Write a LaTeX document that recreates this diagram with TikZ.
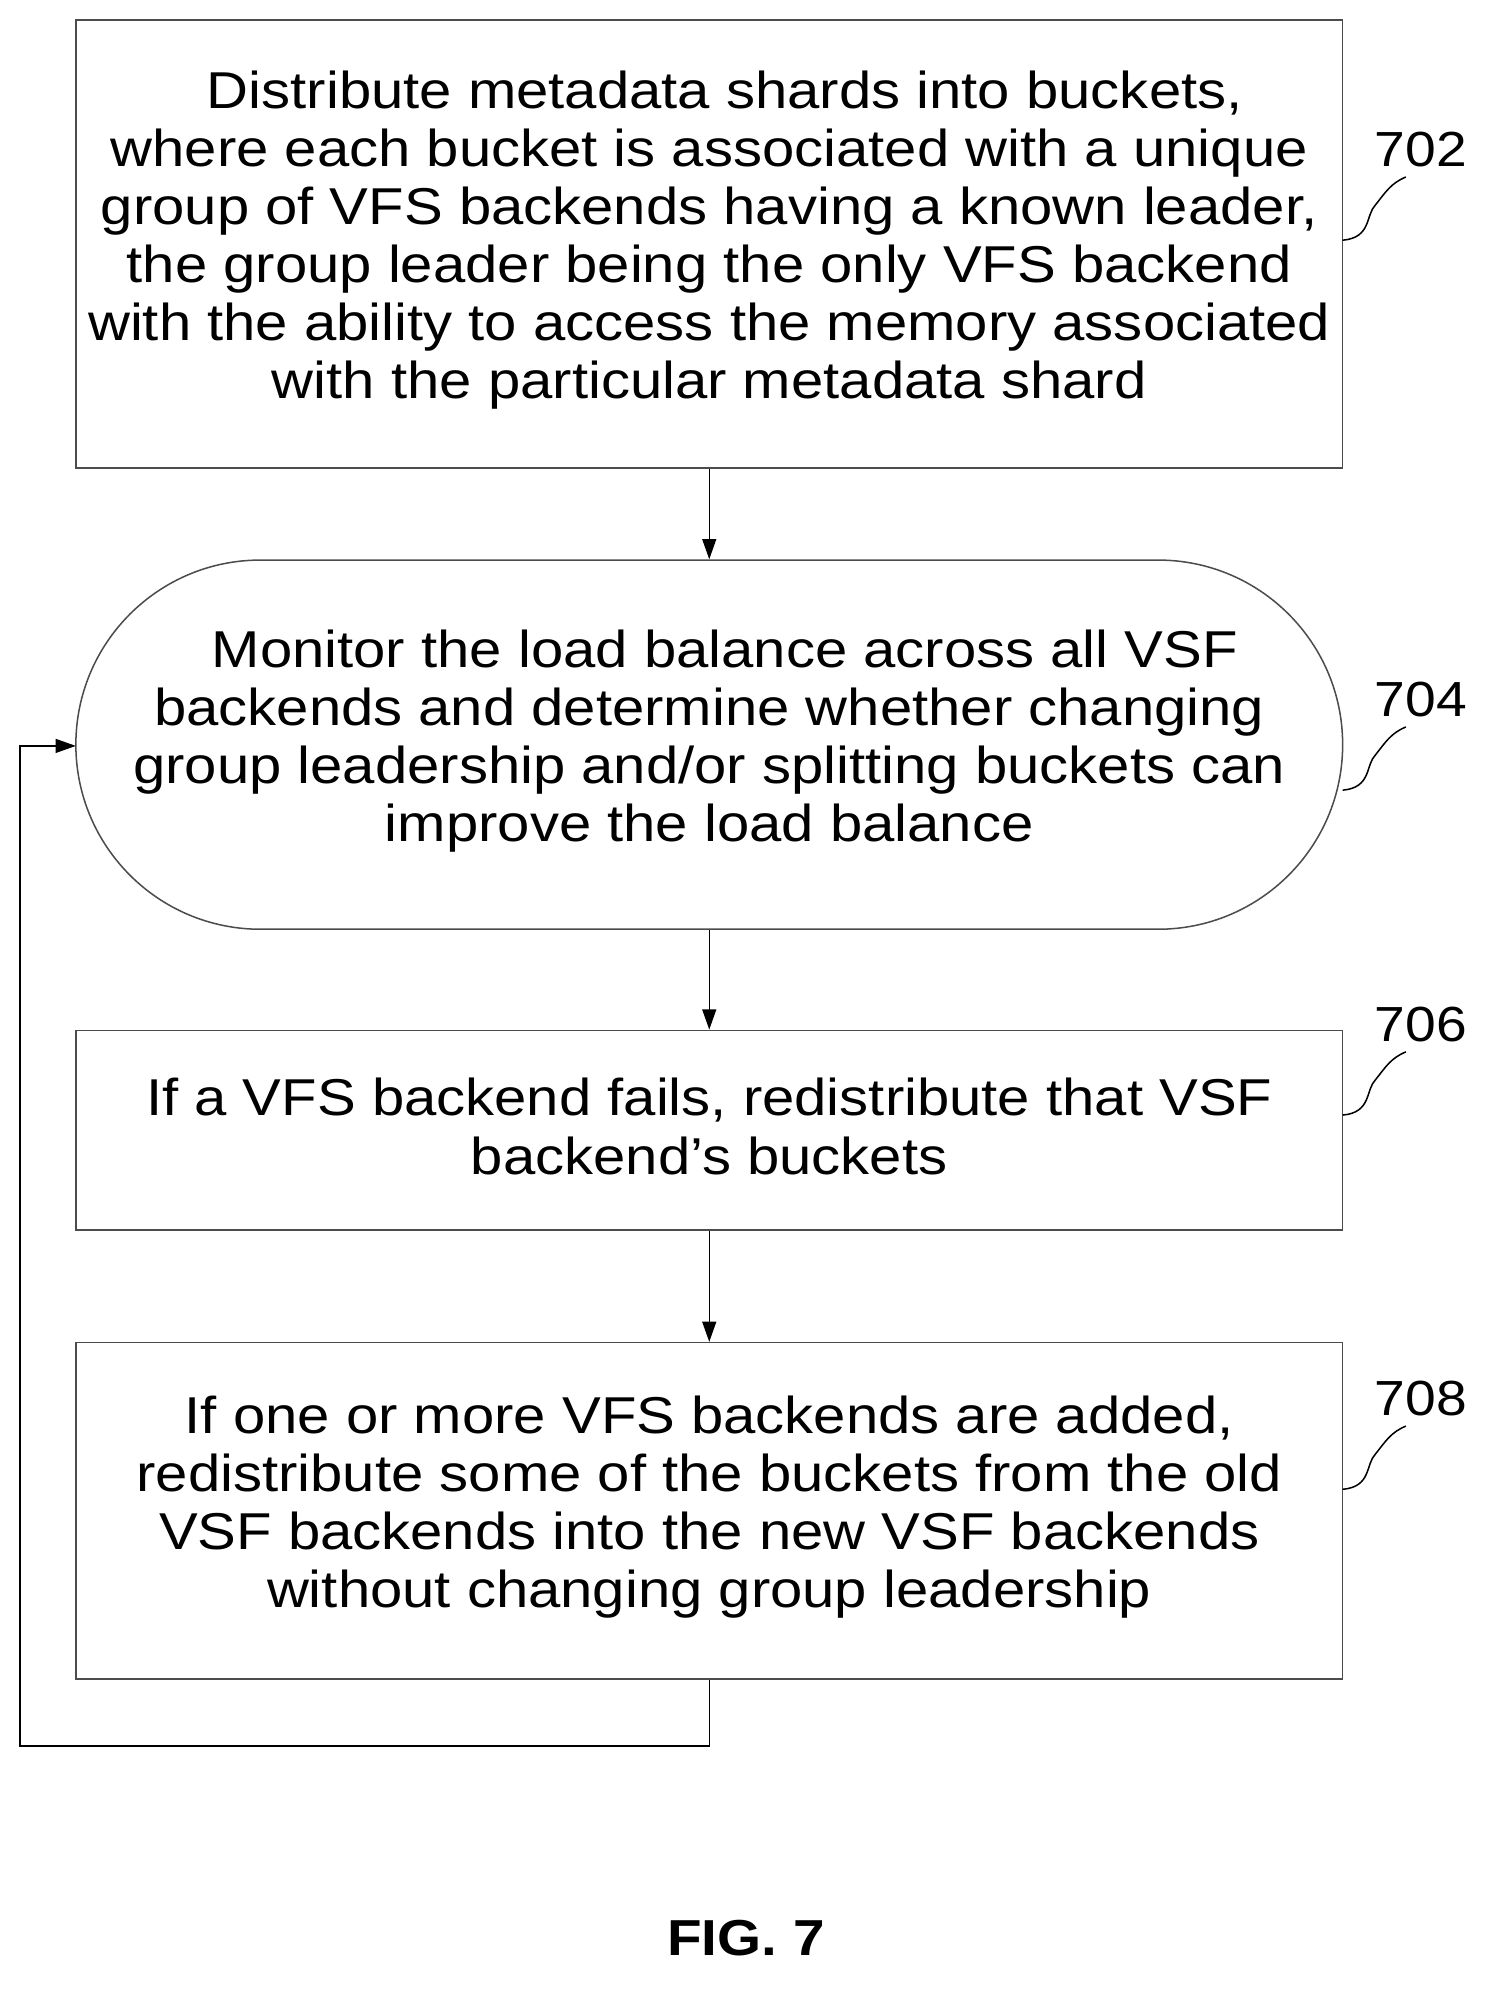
\documentclass[tikz,border=0pt]{standalone}
\usepackage{fontspec}
\setmainfont[FakeStretch=1.12]{Liberation Sans}
\usetikzlibrary{arrows.meta}
\begin{document}
\begin{tikzpicture}[x=1pt,y=-1pt,
  txt/.style={font=\fontsize{41}{46}\selectfont,align=center},
  boxline/.style={draw=black!70,line width=1.2pt},
  conn/.style={line width=1.2pt,-{Triangle[length=16pt,width=11pt]}},
  lbl/.style={font=\fontsize{39}{46}\selectfont}]
\useasboundingbox (0,0) rectangle (1185,1578);
\node[boxline,minimum width=1002pt,minimum height=354pt,inner sep=0pt] (b702) at (561,193) {};
\node[txt] at (561,190) {\hspace*{0.6em}Distribute metadata shards into buckets,\\where each bucket is associated with a unique\\group of VFS backends having a known leader,\\the group leader being the only VFS backend\\with the ability to access the memory associated\\with the particular metadata shard};
\node[boxline,rounded corners=146pt,minimum width=1002pt,minimum height=292pt,inner sep=0pt] (b704) at (561,589) {};
\node[txt] at (561,586) {\hspace*{0.6em}Monitor the load balance across all VSF\\backends and determine whether changing\\group leadership and/or splitting buckets can\\improve the load balance};
\node[boxline,minimum width=1002pt,minimum height=158pt,inner sep=0pt] (b706) at (561,894) {};
\node[txt] at (561,891) {If a VFS backend fails, redistribute that VSF\\backend’s buckets};
\node[boxline,minimum width=1002pt,minimum height=266pt,inner sep=0pt] (b708) at (561,1195) {};
\node[txt] at (561,1192) {If one or more VFS backends are added,\\redistribute some of the buckets from the old\\VSF backends into the new VSF backends\\without changing group leadership};
\draw[conn] (b702.south) -- (b704.north);
\draw[conn] (b704.south) -- (b706.north);
\draw[conn] (b706.south) -- (b708.north);
\coordinate (c1) at (561,1381);
\coordinate (c2) at (16,1381);
\coordinate (c3) at (16,590);
\coordinate (c4) at (60,590);
\draw[conn] (b708.south) -- (c1) -- (c2) -- (c3) -- (c4);
\foreach \n/\y in {702/190,704/625,706/882,708/1178}{
  \node[lbl] (l\n) at (1124,\y-72) {\n};
  \draw[line width=1.2pt] (1062,\y) .. controls (1085,\y-2) and (1080,\y-20) .. (1088,\y-28) .. controls (1096,\y-38) and (1100,\y-45) .. (1112,\y-50);
}
\node[font=\bfseries\fontsize{40}{46}\selectfont] (fig) at (590,1533) {FIG. 7};
\end{tikzpicture}
\end{document}
